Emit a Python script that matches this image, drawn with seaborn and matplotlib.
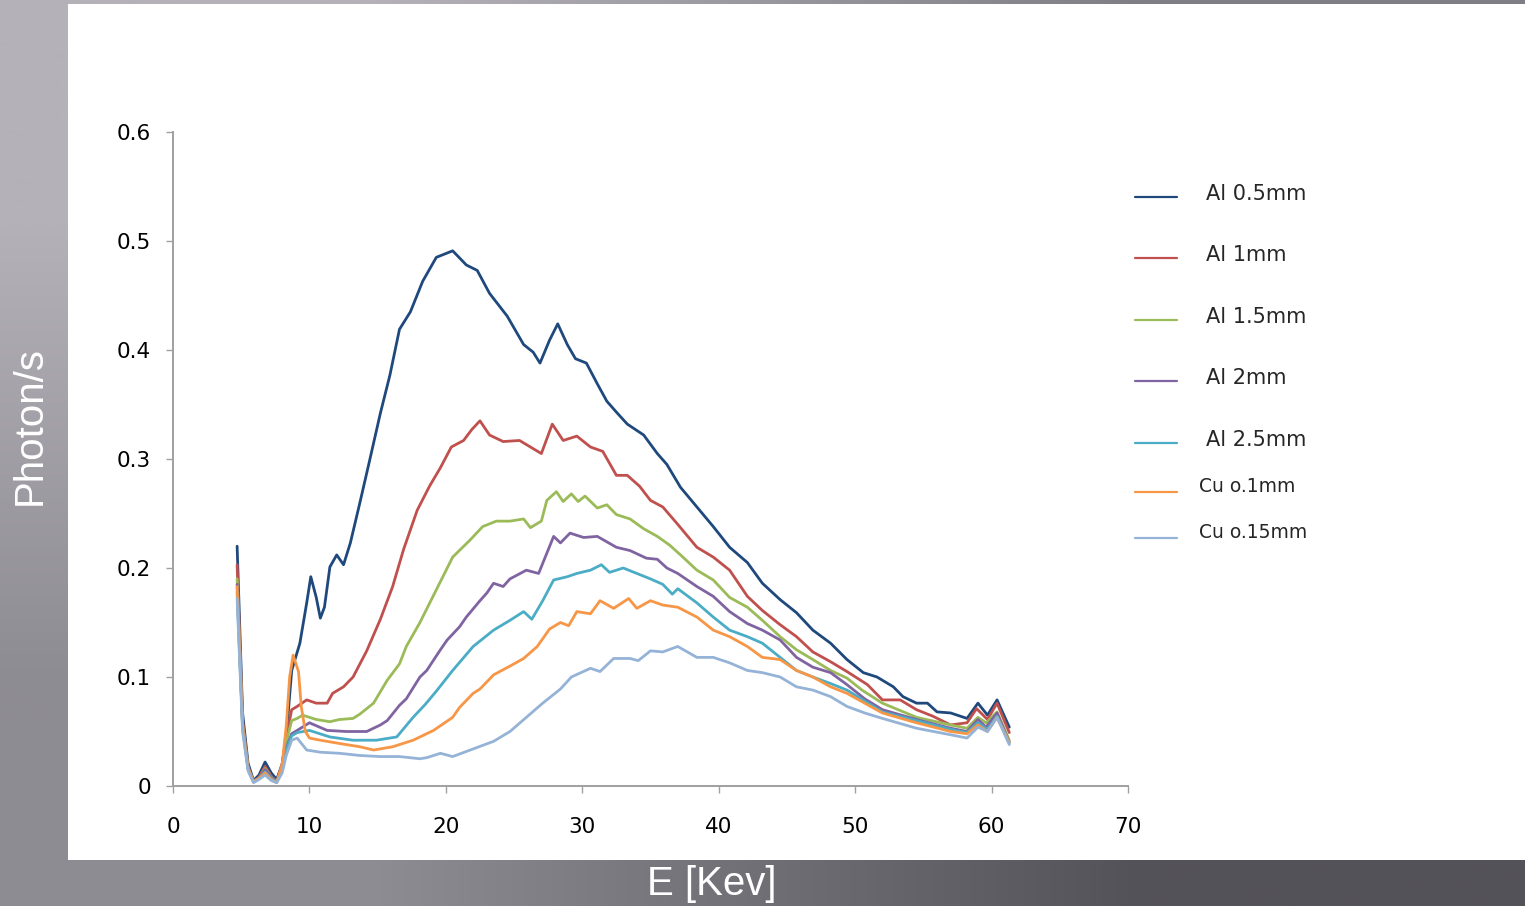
import matplotlib
matplotlib.use("Agg")
import matplotlib.pyplot as plt
from matplotlib.lines import Line2D
from matplotlib.patches import Rectangle
import numpy as np
import pandas as pd
import seaborn as sns

# Spectra: energy [keV] and photon/s per filter
e_low = [4.7, 4.9, 5.1, 5.5, 5.9, 6.3, 6.75, 7.2, 7.6, 8.0, 8.3]

al05_e = e_low + [8.7, 9.3, 9.8, 10.1, 10.5, 10.8, 11.1, 11.5, 12.0, 12.5, 13.0, 13.7, 14.4, 15.2, 15.9,
                  16.6, 17.4, 18.3, 19.3, 20.5, 21.5, 22.3, 23.2, 24.5, 25.7, 26.4, 26.9, 27.6, 28.2,
                  28.9, 29.5, 30.3, 31.1, 31.8, 32.5, 33.3, 34.5, 35.5, 36.2, 37.2, 38.4, 39.6, 40.8,
                  42.1, 43.2, 44.5, 45.7, 46.9, 48.2, 49.4, 50.6, 51.6, 52.8, 53.5, 54.5, 55.3, 56.0,
                  57.0, 58.2, 59.0, 59.7, 60.4, 61.3]
al05_v = [0.22, 0.143, 0.067, 0.021, 0.005, 0.01, 0.022, 0.012, 0.006, 0.02, 0.045,
          0.106, 0.131, 0.168, 0.192, 0.173, 0.154, 0.164, 0.201, 0.212, 0.203, 0.223, 0.26, 0.298,
          0.342, 0.377, 0.419, 0.435, 0.463, 0.485, 0.491, 0.478, 0.473, 0.452, 0.431, 0.405, 0.398,
          0.388, 0.409, 0.424, 0.405, 0.392, 0.388, 0.369, 0.353, 0.343, 0.332, 0.322, 0.305, 0.295,
          0.274, 0.256, 0.238, 0.219, 0.205, 0.186, 0.171, 0.159, 0.143, 0.131, 0.116, 0.104, 0.1,
          0.091, 0.082, 0.076, 0.076, 0.068, 0.067, 0.062, 0.076, 0.065, 0.079, 0.054]

al1_e = e_low + [8.7, 9.1, 9.8, 10.5, 11.3, 11.7, 12.5, 13.2, 14.2, 15.2, 16.1, 16.9, 17.9, 18.8,
                 19.6, 20.4, 21.3, 21.9, 22.5, 23.2, 24.2, 25.4, 26.2, 27.0, 27.8, 28.6, 29.6, 30.6,
                 31.5, 32.5, 33.3, 34.2, 35.0, 35.9, 37.0, 38.4, 39.6, 40.8, 42.1, 43.2, 44.5, 45.7,
                 46.9, 48.2, 49.4, 50.9, 52.0, 53.3, 54.5, 55.7, 57.0, 58.2, 58.9, 59.7, 60.4, 61.3]
al1_v = [0.203, 0.13, 0.06, 0.018, 0.004, 0.008, 0.018, 0.009, 0.004, 0.02, 0.045,
         0.07, 0.073, 0.079, 0.076, 0.076, 0.085, 0.091, 0.1, 0.124, 0.153, 0.183, 0.217, 0.253,
         0.275, 0.292, 0.311, 0.317, 0.327, 0.335, 0.322, 0.316, 0.317, 0.311, 0.305, 0.332, 0.317,
         0.321, 0.311, 0.307, 0.285, 0.285, 0.275, 0.262, 0.256, 0.24, 0.219, 0.21, 0.198, 0.174,
         0.161, 0.148, 0.137, 0.123, 0.114, 0.105, 0.093, 0.079, 0.079, 0.07, 0.064, 0.056, 0.058,
         0.071, 0.061, 0.076, 0.049]

al15_e = e_low + [8.7, 9.1, 9.5, 10.5, 11.5, 12.2, 13.2, 13.7, 14.7, 15.7, 16.6, 17.1, 18.1, 19.3,
                  20.5, 21.8, 22.7, 23.7, 24.7, 25.7, 26.2, 27.0, 27.4, 28.1, 28.6, 29.2, 29.7, 30.2,
                  31.1, 31.8, 32.5, 33.5, 34.5, 35.5, 36.4, 37.2, 38.4, 39.6, 40.8, 42.1, 43.2, 44.5,
                  45.7, 46.9, 48.2, 49.4, 50.5, 52.0, 54.5, 57.0, 58.2, 59.0, 59.6, 60.4, 61.3]
al15_v = [0.19, 0.125, 0.058, 0.017, 0.004, 0.007, 0.016, 0.008, 0.004, 0.016, 0.04,
          0.06, 0.062, 0.065, 0.061, 0.059, 0.061, 0.062, 0.066, 0.076, 0.097, 0.112, 0.128, 0.15,
          0.18, 0.21, 0.226, 0.238, 0.243, 0.243, 0.245, 0.237, 0.243, 0.262, 0.27, 0.261, 0.268,
          0.261, 0.266, 0.255, 0.258, 0.249, 0.245, 0.236, 0.229, 0.221, 0.212, 0.198, 0.189, 0.173,
          0.164, 0.152, 0.137, 0.125, 0.116, 0.106, 0.099, 0.088, 0.076, 0.063, 0.056, 0.053, 0.063,
          0.058, 0.068, 0.042]

al2_e = e_low + [8.7, 9.1, 10.0, 11.3, 12.7, 14.2, 15.2, 15.7, 16.6, 17.1, 18.1, 18.6, 19.6, 20.1,
                 21.0, 21.5, 22.5, 23.0, 23.5, 24.2, 24.7, 25.9, 26.8, 27.9, 28.4, 29.1, 30.1, 31.1,
                 31.8, 32.5, 33.5, 34.7, 35.5, 36.2, 37.0, 38.4, 39.6, 40.8, 42.1, 43.2, 44.5, 45.7,
                 46.9, 48.2, 49.4, 50.7, 52.0, 54.5, 57.0, 58.2, 59.0, 59.6, 60.4, 61.3]
al2_v = [0.185, 0.12, 0.056, 0.016, 0.004, 0.007, 0.015, 0.008, 0.004, 0.015, 0.035,
         0.048, 0.051, 0.058, 0.051, 0.05, 0.05, 0.056, 0.06, 0.074, 0.08, 0.1, 0.106, 0.125, 0.134,
         0.146, 0.155, 0.17, 0.177, 0.186, 0.183, 0.19, 0.198, 0.195, 0.229, 0.223, 0.232, 0.228,
         0.229, 0.224, 0.219, 0.216, 0.209, 0.208, 0.2, 0.195, 0.183, 0.174, 0.16, 0.149, 0.143,
         0.134, 0.118, 0.109, 0.104, 0.093, 0.08, 0.07, 0.061, 0.053, 0.05, 0.061, 0.054, 0.067, 0.04]

al25_e = e_low + [8.7, 9.1, 10.0, 11.5, 13.2, 14.9, 16.4, 17.6, 18.5, 19.3, 20.5, 22.0, 23.5, 24.7,
                  25.7, 26.3, 27.1, 27.9, 28.9, 29.6, 30.6, 31.4, 32.0, 33.0, 34.0, 35.0, 35.9, 36.6,
                  37.0, 38.4, 39.6, 40.8, 42.1, 43.2, 44.5, 45.7, 46.9, 48.2, 49.4, 50.7, 52.0, 54.5,
                  57.0, 58.2, 59.0, 59.7, 60.4, 61.3]
al25_v = [0.178, 0.115, 0.054, 0.016, 0.004, 0.007, 0.013, 0.007, 0.004, 0.014, 0.033,
          0.046, 0.049, 0.051, 0.045, 0.042, 0.042, 0.045, 0.063, 0.075, 0.087, 0.106, 0.128, 0.143,
          0.152, 0.16, 0.153, 0.17, 0.189, 0.192, 0.195, 0.198, 0.203, 0.196, 0.2, 0.195, 0.19,
          0.185, 0.176, 0.181, 0.168, 0.155, 0.143, 0.137, 0.131, 0.118, 0.106, 0.1, 0.094, 0.088,
          0.078, 0.068, 0.06, 0.052, 0.049, 0.058, 0.052, 0.064, 0.04]

cu01_e = e_low + [8.55, 8.8, 9.2, 9.4, 9.7, 10.0, 10.8, 12.2, 13.7, 14.7, 16.1, 17.6, 19.1, 20.5,
                  21.0, 22.0, 22.5, 23.5, 24.7, 25.7, 26.7, 27.6, 28.4, 29.0, 29.6, 30.6, 31.3, 32.3,
                  33.4, 34.0, 35.0, 35.9, 37.0, 38.4, 39.6, 40.8, 42.1, 43.2, 44.5, 45.7, 46.9, 48.2,
                  49.4, 50.7, 52.0, 54.5, 57.0, 58.2, 59.0, 59.7, 60.4, 61.3]
cu01_v = [0.183, 0.12, 0.055, 0.016, 0.004, 0.007, 0.012, 0.006, 0.003, 0.02, 0.055,
          0.1, 0.12, 0.105, 0.073, 0.05, 0.044, 0.042, 0.039, 0.036, 0.033, 0.036, 0.042, 0.051,
          0.063, 0.072, 0.085, 0.089, 0.102, 0.11, 0.117, 0.128, 0.144, 0.15, 0.147, 0.16, 0.158,
          0.17, 0.163, 0.172, 0.163, 0.17, 0.166, 0.164, 0.155, 0.143, 0.137, 0.128, 0.118, 0.116,
          0.106, 0.1, 0.091, 0.085, 0.076, 0.067, 0.058, 0.05, 0.048, 0.056, 0.05, 0.063, 0.04]

cu015_e = e_low + [8.7, 9.1, 9.8, 10.8, 12.2, 13.7, 15.2, 16.6, 18.1, 18.6, 19.6, 20.5, 22.0, 23.5,
                   24.7, 25.9, 27.1, 28.4, 29.2, 30.6, 31.3, 32.3, 33.5, 34.1, 35.0, 35.9, 37.0, 38.4,
                   39.6, 40.8, 42.1, 43.2, 44.5, 45.7, 46.9, 48.2, 49.4, 50.7, 52.0, 54.5, 57.0, 58.2,
                   59.0, 59.7, 60.4, 61.3]
cu015_v = [0.172, 0.11, 0.05, 0.014, 0.003, 0.006, 0.01, 0.005, 0.003, 0.012, 0.028,
           0.042, 0.044, 0.033, 0.031, 0.03, 0.028, 0.027, 0.027, 0.025, 0.026, 0.03, 0.027, 0.034,
           0.041, 0.05, 0.063, 0.076, 0.089, 0.1, 0.108, 0.105, 0.117, 0.117, 0.115, 0.124, 0.123,
           0.128, 0.118, 0.118, 0.113, 0.106, 0.104, 0.1, 0.091, 0.088, 0.082, 0.073, 0.067, 0.062,
           0.053, 0.047, 0.044, 0.054, 0.05, 0.063, 0.038]

labels = ["Al 0.5mm", "Al 1mm", "Al 1.5mm", "Al 2mm", "Al 2.5mm", "Cu o.1mm", "Cu o.15mm"]
colors = ["#1F497D", "#C0504D", "#9BBB59", "#8064A2", "#4BACC6", "#F79646", "#95B3D7"]
energies = [al05_e, al1_e, al15_e, al2_e, al25_e, cu01_e, cu015_e]
values = [al05_v, al1_v, al15_v, al2_v, al25_v, cu01_v, cu015_v]

x_ticks = [0, 10, 20, 30, 40, 50, 60, 70]
y_ticks = [0, 0.1, 0.2, 0.3, 0.4, 0.5, 0.6]
y_tick_labels = ["0", "0.1", "0.2", "0.3", "0.4", "0.5", "0.6"]

frames = [pd.DataFrame({"E": e, "rate": v, "filter": lab}) for e, v, lab in zip(energies, values, labels)]
df = pd.concat(frames, ignore_index=True)

sns.set_style("white")
plt.rcParams["font.family"] = ["DejaVu Sans"]

W, H = 1525, 906
fig = plt.figure(figsize=(W / 100, H / 100), dpi=100)

# gray slide background with a soft gradient
bg = fig.add_axes([0, 0, 1, 1], zorder=-3)
grad = np.array([[[180, 177, 184], [128, 126, 133]],
                 [[142, 140, 147], [84, 82, 89]]]) / 255.0
bg.imshow(grad, interpolation="bilinear", aspect="auto", extent=[0, 1, 0, 1])
bg.axis("off")

# white chart panel
fig.patches.append(Rectangle((68 / W, 1 - 860 / H), (W - 68) / W, (860 - 4) / H,
                             transform=fig.transFigure, facecolor="white", edgecolor="none", zorder=-2))

ax = fig.add_axes([173 / W, 1 - 786 / H, (1128 - 173) / W, (786 - 132) / H])
ax.patch.set_alpha(0)

sns.lineplot(data=df, x="E", y="rate", hue="filter", palette=dict(zip(labels, colors)),
             estimator=None, sort=False, legend=False, linewidth=2.0, ax=ax)

ax.set_xlim(0, 70)
ax.set_ylim(0, 0.6)
ax.set_xticks(x_ticks)
ax.set_yticks(y_ticks)
ax.set_yticklabels(y_tick_labels)
ax.set_xlabel("")
ax.set_ylabel("")
for side in ["top", "right"]:
    ax.spines[side].set_visible(False)
for side in ["left", "bottom"]:
    ax.spines[side].set_color("#A0A0A0")
    ax.spines[side].set_linewidth(1.4)
ax.tick_params(axis="both", direction="out", length=5, width=1, color="#A0A0A0",
               labelsize=15.5, labelcolor="black")
ax.tick_params(axis="x", pad=17, bottom=True)
ax.tick_params(axis="y", pad=11, left=True)

# axis titles on the gray background
fig.text(712 / W, 1 - 884 / H, "E [Kev]", color="white", fontsize=29, family="Liberation Sans",
         ha="center", va="center")
fig.text(30 / W, 1 - 425 / H, "Photon/s", color="white", fontsize=29, family="Liberation Sans",
         ha="center", va="center", rotation=90)

# legend, laid out as in the original
legend_y = [197, 258, 320, 381, 443, 492, 538]
for lab, col, yy in zip(labels, colors, legend_y):
    fig.lines.append(Line2D([1135 / W, 1177 / W], [1 - yy / H, 1 - yy / H], color=col,
                            linewidth=1.6, transform=fig.transFigure))
    if lab.startswith("Al"):
        fig.text(1206 / W, 1 - (yy - 3) / H, lab, fontsize=15, ha="left", va="center")
    else:
        fig.text(1199 / W, 1 - (yy - 5) / H, lab, fontsize=13.5, ha="left", va="center")

fig.savefig("out.png", dpi=100)
